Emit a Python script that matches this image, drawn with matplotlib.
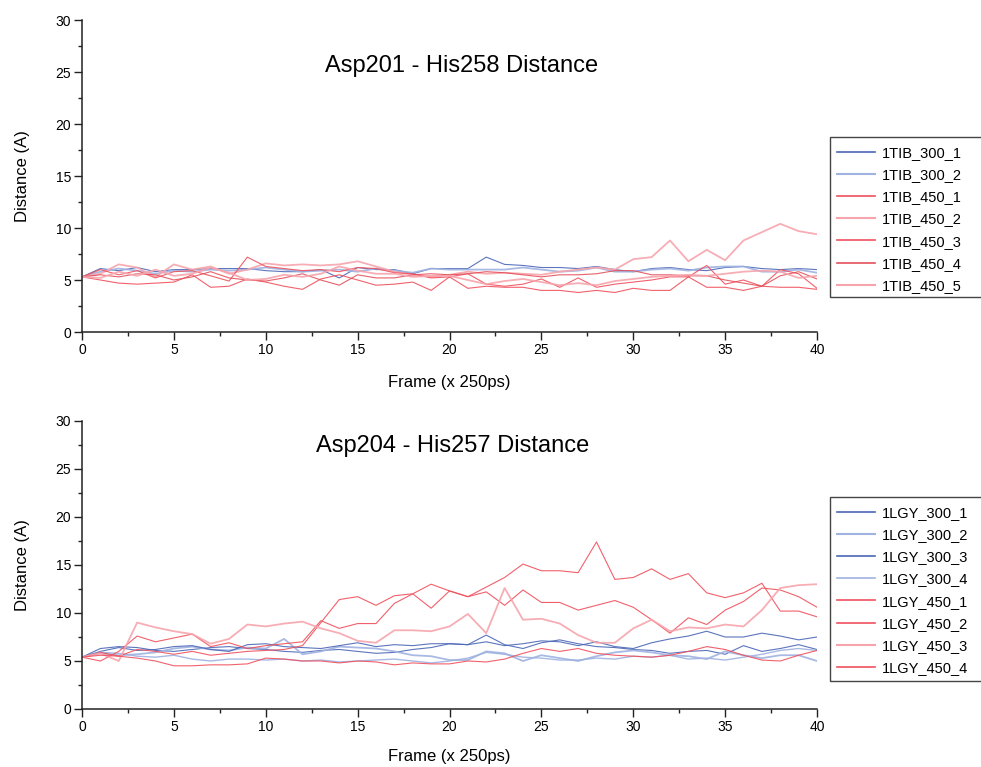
import matplotlib
matplotlib.use("Agg")
import matplotlib.pyplot as plt
from matplotlib.lines import Line2D
from matplotlib.patches import Rectangle
from matplotlib.ticker import MultipleLocator

plt.rcParams['font.family'] = ['Liberation Sans', 'DejaVu Sans']

frames = list(range(41))

# ---- Asp201 - His258 (1TIB runs) ----
tib_labels = ["1TIB_300_1", "1TIB_300_2", "1TIB_450_1", "1TIB_450_2",
              "1TIB_450_3", "1TIB_450_4", "1TIB_450_5"]
tib_300_1 = [5.3, 6.1, 5.9, 6.2, 5.8, 6.0, 6.0, 6.1, 6.1, 6.1, 5.9, 5.8, 5.8, 6.0, 5.2, 6.2, 6.0, 6.0, 5.6, 6.1,
             6.1, 6.1, 7.2, 6.5, 6.4, 6.2, 6.2, 6.1, 6.3, 6.0, 5.8, 6.1, 6.2, 6.0, 5.9, 6.2, 6.3, 6.1, 6.0, 6.1, 6.0]
tib_300_2 = [5.3, 5.8, 6.1, 5.9, 5.6, 5.9, 5.8, 6.0, 5.9, 6.0, 6.2, 6.0, 5.8, 5.9, 6.0, 5.8, 6.1, 5.9, 5.7, 6.1,
             6.0, 6.0, 6.0, 6.0, 6.2, 6.0, 5.8, 5.9, 6.2, 5.8, 5.8, 6.0, 6.1, 5.9, 6.2, 6.3, 6.3, 5.8, 5.8, 6.0, 5.7]
tib_450_1 = [5.3, 5.0, 4.7, 4.6, 4.7, 4.8, 5.5, 4.3, 4.4, 5.1, 4.8, 4.4, 4.1, 5.1, 5.5, 5.0, 4.5, 4.6, 4.8, 4.0,
             5.3, 4.2, 4.4, 4.3, 4.3, 4.0, 4.0, 3.8, 4.0, 3.8, 4.2, 4.0, 4.0, 5.3, 4.3, 4.3, 4.0, 4.4, 4.3, 4.3, 4.1]
tib_450_2 = [5.3, 5.6, 6.5, 6.2, 5.3, 6.5, 6.0, 6.3, 5.6, 6.0, 6.6, 6.4, 6.5, 6.4, 6.5, 6.8, 6.3, 5.8, 5.5, 5.3,
             5.5, 5.8, 5.6, 5.7, 5.6, 5.5, 5.8, 6.0, 6.2, 6.0, 7.0, 7.2, 8.8, 6.8, 7.9, 6.9, 8.8, 9.6, 10.4, 9.7, 9.4]
tib_450_3 = [5.3, 6.0, 5.5, 5.9, 5.2, 5.8, 5.9, 5.4, 4.9, 7.2, 6.3, 6.1, 5.9, 6.0, 5.8, 6.2, 6.1, 5.7, 5.6, 5.2,
             5.3, 5.6, 4.6, 4.4, 4.6, 5.1, 4.3, 5.2, 4.3, 4.6, 4.8, 5.0, 5.3, 5.3, 6.4, 4.6, 5.0, 4.4, 6.0, 5.6, 4.2]
tib_450_4 = [5.3, 5.5, 5.3, 5.6, 5.5, 5.0, 5.3, 5.8, 5.2, 5.0, 4.9, 5.2, 5.6, 5.0, 4.5, 5.5, 5.2, 5.2, 5.5, 5.6,
             5.5, 5.6, 5.8, 5.7, 5.5, 5.3, 5.5, 5.5, 5.6, 5.9, 5.9, 5.5, 5.5, 5.4, 5.4, 5.0, 4.7, 4.4, 5.4, 5.8, 5.1]
tib_450_5 = [5.3, 5.2, 5.8, 5.4, 6.0, 5.4, 5.6, 6.2, 5.7, 5.0, 5.1, 5.5, 5.3, 5.6, 6.3, 5.9, 5.6, 5.6, 5.3, 5.4,
             5.4, 5.0, 4.6, 4.9, 5.1, 4.8, 4.5, 4.7, 4.5, 4.9, 5.1, 5.3, 5.4, 5.5, 5.4, 5.6, 5.8, 5.9, 5.8, 5.2, 5.4]

# ---- Asp204 - His257 (1LGY runs) ----
lgy_labels = ["1LGY_300_1", "1LGY_300_2", "1LGY_300_3", "1LGY_300_4",
              "1LGY_450_1", "1LGY_450_2", "1LGY_450_3", "1LGY_450_4"]
lgy_300_1 = [5.4, 6.3, 6.5, 6.4, 6.1, 6.0, 6.2, 6.4, 6.5, 6.3, 6.2, 6.0, 5.9, 6.1, 6.2, 6.0, 5.8, 5.9, 6.2, 6.4,
             6.8, 6.7, 7.7, 6.7, 6.3, 6.9, 7.2, 6.8, 6.5, 6.4, 6.2, 6.1, 5.8, 6.0, 6.1, 5.7, 6.6, 6.0, 6.3, 6.7, 6.2]
lgy_300_2 = [5.4, 5.8, 5.6, 5.7, 5.9, 6.3, 6.5, 6.2, 6.1, 6.4, 6.3, 7.3, 5.7, 6.0, 6.5, 6.4, 6.3, 6.0, 5.6, 5.5,
             5.1, 5.1, 6.0, 5.8, 5.0, 5.6, 5.3, 5.0, 5.5, 5.9, 6.1, 5.9, 5.6, 5.5, 5.2, 6.0, 5.6, 5.3, 5.6, 5.6, 5.0]
lgy_300_3 = [5.4, 6.0, 6.4, 6.1, 6.2, 6.5, 6.6, 6.2, 6.0, 6.7, 6.8, 6.5, 6.4, 6.3, 6.6, 6.9, 6.5, 6.7, 6.6, 6.8,
             6.8, 6.7, 7.0, 6.6, 6.8, 7.1, 7.0, 6.6, 7.0, 6.5, 6.3, 6.9, 7.3, 7.6, 8.1, 7.5, 7.5, 7.9, 7.6, 7.2, 7.5]
lgy_300_4 = [5.4, 5.9, 5.8, 5.5, 5.4, 5.6, 5.2, 5.0, 5.2, 5.2, 5.1, 5.2, 5.0, 5.1, 4.9, 5.0, 5.1, 5.2, 5.0, 4.8,
             5.0, 5.3, 5.9, 5.7, 5.4, 5.3, 5.1, 5.1, 5.3, 5.2, 5.5, 5.4, 5.6, 5.2, 5.3, 5.1, 5.4, 5.7, 6.1, 6.3, 6.1]
lgy_450_1 = [5.4, 5.9, 5.5, 6.2, 6.0, 5.7, 6.0, 5.6, 5.8, 6.0, 6.1, 6.2, 6.6, 9.0, 11.4, 11.7, 10.8, 11.8, 12.0, 13.0,
             12.3, 11.7, 12.7, 13.7, 15.1, 14.4, 14.4, 14.2, 17.4, 13.5, 13.7, 14.6, 13.5, 14.1, 12.1, 11.6, 12.1, 13.1,
             10.2, 10.2, 9.6]
lgy_450_2 = [5.4, 5.0, 6.0, 7.6, 7.0, 7.4, 7.8, 6.5, 6.9, 6.3, 6.6, 6.8, 7.0, 9.2, 8.4, 8.9, 8.9, 11.0, 12.0, 10.5,
             12.3, 11.7, 12.2, 10.8, 12.4, 11.1, 11.1, 10.3, 10.8, 11.3, 10.6, 9.3, 7.9, 9.5, 8.8, 10.3, 11.2, 12.6,
             12.4, 11.7, 10.6]
lgy_450_3 = [5.4, 5.8, 5.0, 9.0, 8.5, 8.1, 7.8, 6.8, 7.3, 8.8, 8.6, 8.9, 9.1, 8.4, 7.9, 7.1, 6.9, 8.2, 8.2, 8.1,
             8.6, 9.9, 7.9, 12.6, 9.3, 9.4, 8.9, 7.7, 6.9, 6.9, 8.4, 9.3, 8.1, 8.5, 8.4, 8.8, 8.6, 10.3, 12.6, 12.9, 13.0]
lgy_450_4 = [5.4, 5.6, 5.5, 5.3, 5.0, 4.5, 4.5, 4.6, 4.6, 4.7, 5.3, 5.2, 5.0, 5.0, 4.8, 5.0, 4.9, 4.6, 4.8, 4.7,
             4.7, 5.0, 4.9, 5.2, 5.8, 6.3, 6.0, 6.3, 5.8, 5.6, 5.5, 5.4, 5.6, 6.0, 6.5, 6.2, 5.6, 5.1, 5.0, 5.6, 6.1]

BLUE = "#4a66b6"
LBLUE = "#9fb2e0"
RED = "#f0505c"
LRED = "#f7a4ac"

tib_series = [tib_300_1, tib_300_2, tib_450_1, tib_450_2, tib_450_3, tib_450_4, tib_450_5]
tib_styles = [(BLUE, 0.8), (LBLUE, 1.3), (RED, 0.8), (LRED, 1.3), (RED, 0.8), ("#e4505a", 0.8), (LRED, 1.3)]

lgy_series = [lgy_300_1, lgy_300_2, lgy_300_3, lgy_300_4, lgy_450_1, lgy_450_2, lgy_450_3, lgy_450_4]
lgy_styles = [(BLUE, 0.8), (LBLUE, 1.3), (BLUE, 0.8), (LBLUE, 1.0), (RED, 0.8), (RED, 0.8), (LRED, 1.3), (RED, 0.8)]

W, H = 981, 767
fig = plt.figure(figsize=(W / 100, H / 100), dpi=100)


def px_box(left, top, right, bottom):
    return [left / W, 1 - bottom / H, (right - left) / W, (bottom - top) / H]


ax1 = fig.add_axes(px_box(82, 20, 817, 332))
ax2 = fig.add_axes(px_box(82, 421, 817, 709))


def draw_panel(ax, series, styles, labels, xpad):
    for vals, (col, lw), lab in zip(series, styles, labels):
        ax.plot(frames, vals, color=col, lw=lw, label=lab, alpha=0.9)
    ax.set_xlim(0, 40)
    ax.set_ylim(0, 30)
    ax.xaxis.set_major_locator(MultipleLocator(5))
    ax.xaxis.set_minor_locator(MultipleLocator(2.5))
    ax.yaxis.set_major_locator(MultipleLocator(5))
    ax.yaxis.set_minor_locator(MultipleLocator(2.5))
    for s in ("top", "right"):
        ax.spines[s].set_visible(False)
    for s in ("left", "bottom"):
        ax.spines[s].set_linewidth(1.1)
        ax.spines[s].set_color("#222222")
    ax.tick_params(which="major", direction="out", length=6, width=1.0, labelsize=10, pad=2,
                   color="#222222")
    ax.tick_params(which="minor", direction="out", length=3, width=1.0, color="#222222")
    ax.set_xlabel("Frame (x 250ps)", fontsize=12, labelpad=xpad)
    ax.set_ylabel("Distance (A)", fontsize=12, labelpad=18)
    ax.patch.set_alpha(0)


draw_panel(ax1, tib_series, tib_styles, tib_labels, 13)
draw_panel(ax2, lgy_series, lgy_styles, lgy_labels, 11)

fig.text(462 / W, 1 - 66 / H, "Asp201 - His258 Distance", fontsize=17, ha="center", va="center")
fig.text(453 / W, 1 - 446 / H, "Asp204 - His257 Distance", fontsize=17, ha="center", va="center")


def panel_legend(styles, labels, left, top, bottom, spacing):
    fig.patches.append(Rectangle((left / W, 1 - bottom / H), (W + 20 - left) / W, (bottom - top) / H,
                                 transform=fig.transFigure, fill=False, edgecolor="#444444",
                                 linewidth=1.0, clip_on=False))
    handles = [Line2D([], [], color=c, lw=max(lw, 1.0) + 0.2) for c, lw in styles]
    fig.legend(handles, labels, loc="upper left", bbox_to_anchor=((left + 4) / W, 1 - (top + 6) / H),
               frameon=False, fontsize=10.5, handlelength=2.6, handletextpad=0.45,
               labelspacing=spacing, borderaxespad=0.0, borderpad=0.2)


panel_legend(tib_styles, tib_labels, 830, 137, 297, 0.56)
panel_legend(lgy_styles, lgy_labels, 830, 497, 681, 0.56)

fig.savefig("out.png", dpi=100)
